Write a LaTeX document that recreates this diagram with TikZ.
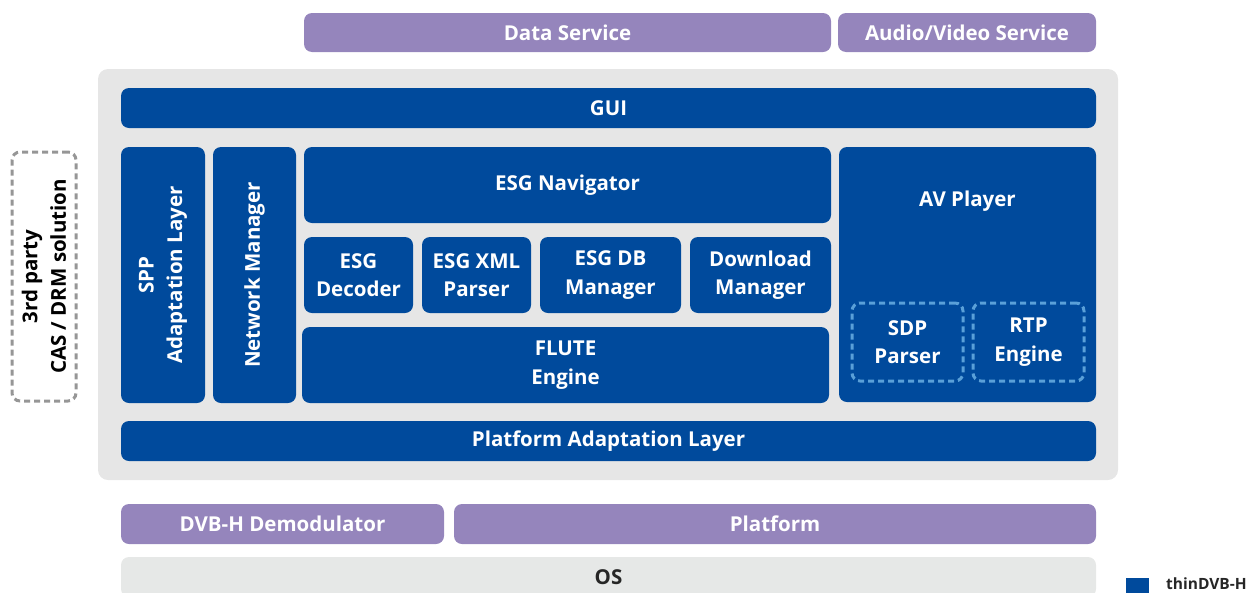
\documentclass[tikz,border=0pt]{standalone}
\usepackage{fontspec}
\setmainfont{Open Sans}
\definecolor{tblue}{RGB}{0,74,156}
\definecolor{tpurple}{RGB}{149,133,188}
\definecolor{tgrey}{RGB}{230,230,230}
\definecolor{osgrey}{RGB}{230,232,231}
\definecolor{dashblue}{RGB}{90,160,216}
\definecolor{dashgrey}{RGB}{150,150,150}
\tikzset{
  base/.style={rounded corners=8pt, inner sep=0pt, align=center, font=\bfseries\fontsize{20.5}{28.5}\selectfont},
  bluebox/.style={base, fill=tblue, text=white},
  purplebox/.style={base, fill=tpurple, text=white},
  greybox/.style={base, fill=osgrey, text=black!85},
  container/.style={rounded corners=10pt, fill=tgrey, inner sep=0pt},
  subbox/.style={base, draw=dashblue, line width=3pt, dash pattern=on 6pt off 4pt, text=white},
  thirdbox/.style={base, draw=dashgrey, line width=3pt, dash pattern=on 6pt off 4pt, text=black},
}
\begin{document}
\begin{tikzpicture}[x=1pt,y=-1pt]
\useasboundingbox (0,0) rectangle (1260,592);
\node[purplebox, minimum width=527pt, minimum height=39pt] (ds) at (567.5,32.5) {Data Service};
\node[purplebox, minimum width=258pt, minimum height=39pt] (avs) at (967,32.5) {Audio/Video Service};
\node[container, minimum width=1020pt, minimum height=411pt] (cont) at (608,274.5) {};
\node[bluebox, minimum width=975pt, minimum height=40pt] (gui) at (608.5,108) {GUI};
\node[bluebox, minimum width=84pt, minimum height=256pt] (spp) at (163,275) {};
\node[base, text=white, rotate=90] (spptext) at (spp.center) {SPP\\Adaptation Layer};
\node[bluebox, minimum width=83pt, minimum height=256pt] (nm) at (254.5,275) {};
\node[base, text=white, rotate=90] (nmtext) at (nm.center) {Network Manager};
\node[bluebox, minimum width=527pt, minimum height=76pt] (nav) at (567.5,185) {ESG Navigator};
\node[bluebox, minimum width=109pt, minimum height=76pt] (dec) at (358.5,275) {ESG\\Decoder};
\node[bluebox, minimum width=109pt, minimum height=76pt] (xml) at (476.5,275) {ESG XML\\Parser};
\node[bluebox, minimum width=141pt, minimum height=76pt] (db) at (610.5,275) {ESG DB\\Manager};
\node[bluebox, minimum width=141pt, minimum height=76pt] (dl) at (760.5,275) {Download\\Manager};
\node[bluebox, minimum width=527pt, minimum height=76pt] (flute) at (565.5,365) {FLUTE\\Engine};
\node[bluebox, minimum width=257pt, minimum height=255pt] (avp) at (967.5,274.5) {};
\node[base, text=white] (avptext) at (967.5,201) {AV Player};
\node[subbox, minimum width=111pt, minimum height=78pt] (sdp) at (907.5,342) {SDP\\Parser};
\node[subbox, minimum width=111pt, minimum height=78pt] (rtp) at (1028.5,342) {RTP\\Engine};
\node[bluebox, minimum width=975pt, minimum height=40pt] (pal) at (608.5,441) {Platform Adaptation Layer};
\node[purplebox, minimum width=323pt, minimum height=40pt] (dvb) at (282.5,524) {DVB-H Demodulator};
\node[purplebox, minimum width=642pt, minimum height=40pt] (plat) at (775,524) {Platform};
\node[greybox, minimum width=975pt, minimum height=40pt] (os) at (608.5,577) {OS};
\node[thirdbox, minimum width=64pt, minimum height=249pt] (third) at (44,276.5) {};
\node[base, text=black, rotate=90] (thirdtext) at (third.center) {3rd party\\CAS / DRM solution};
\node[fill=tblue, minimum width=23pt, minimum height=22pt, inner sep=0pt] (leg) at (1137.5,589) {};
\node[anchor=west, inner sep=0pt, font=\bfseries\fontsize{15.5}{18}\selectfont, text=black!85] (legtext) at (1166,584) {thinDVB-H};
\end{tikzpicture}
\end{document}
